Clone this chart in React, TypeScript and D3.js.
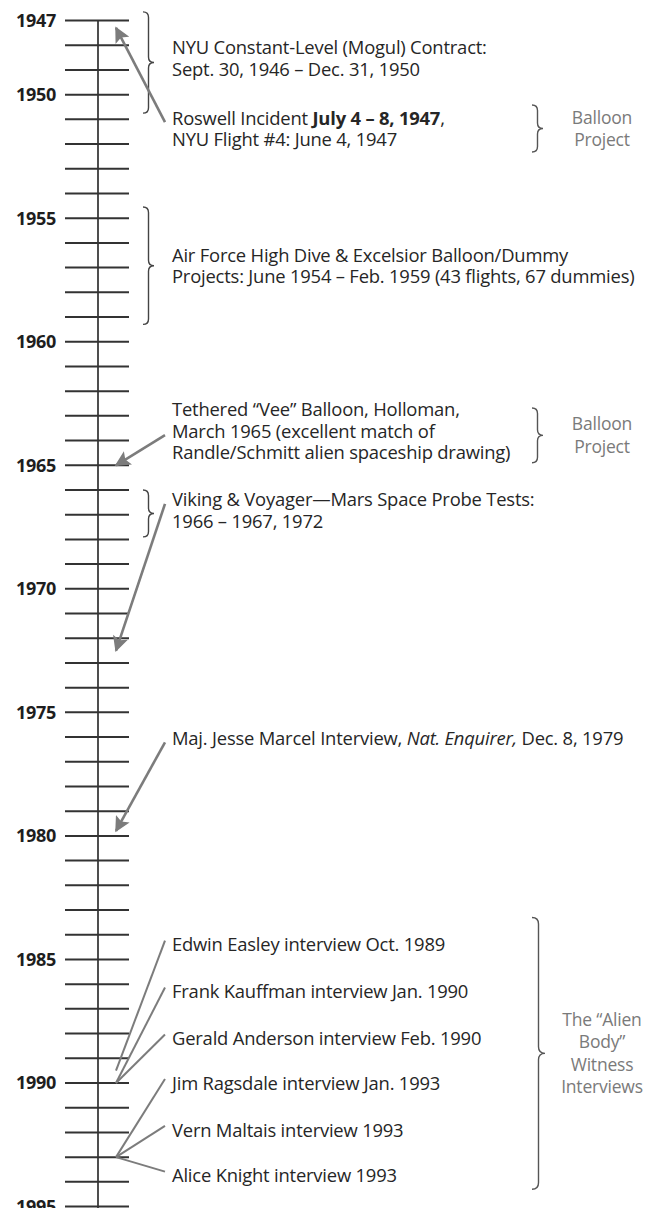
import React, { useRef, useEffect } from "react";
import * as d3 from "d3";

// axis
const labelYears = [1947, 1950, 1955, 1960, 1965, 1970, 1975, 1980, 1985, 1990, 1995];
const firstYear = 1947;
const lastYear = 1995;

// annotation text blocks (year = where the first line sits on the time axis)
const noteLines = [
  ["NYU Constant-Level (Mogul) Contract:", "Sept. 30, 1946 – Dec. 31, 1950"],
  ["Roswell Incident **July 4 – 8, 1947**,", "NYU Flight #4: June 4, 1947"],
  ["Air Force High Dive & Excelsior Balloon/Dummy", "Projects: June 1954 – Feb. 1959 (43 flights, 67 dummies)"],
  ["Tethered “Vee” Balloon, Holloman,", "March 1965 (excellent match of", "Randle/Schmitt alien spaceship drawing)"],
  ["Viking & Voyager—Mars Space Probe Tests:", "1966 – 1967, 1972"],
  ["Maj. Jesse Marcel Interview, _Nat. Enquirer,_ Dec. 8, 1979"],
  ["Edwin Easley interview Oct. 1989"],
  ["Frank Kauffman interview Jan. 1990"],
  ["Gerald Anderson interview Feb. 1990"],
  ["Jim Ragsdale interview Jan. 1993"],
  ["Vern Maltais interview 1993"],
  ["Alice Knight interview 1993"],
];
const noteYears = [1948.1, 1950.95, 1956.5, 1962.75, 1966.4, 1976.05, 1984.4, 1986.3, 1988.2, 1990.0, 1991.9, 1993.75];

// brace spans next to the axis
const spanStarts = [1946.65, 1954.55, 1966.0];
const spanEnds = [1950.75, 1959.3, 1967.9];

// pointers: which note, which line of it, and the year pointed at
const pointerNote = [1, 3, 4, 5, 6, 7, 8, 9, 10, 11];
const pointerLine = [0, 1, 0, 0, 0, 0, 0, 0, 0, 0];
const pointerYear = [1947.3, 1965.0, 1972.5, 1979.8, 1989.5, 1990.0, 1990.0, 1993.0, 1993.0, 1993.0];
const pointerHead = [true, true, true, true, false, false, false, false, false, false];

// grey group notes on the right
const groupLines = [["Balloon", "Project"], ["Balloon", "Project"], ["The “Alien", "Body”", "Witness", "Interviews"]];
const groupStarts = [1950.42, 1962.68, 1983.3];
const groupEnds = [1952.32, 1964.9, 1994.3];

const W = 648;
const H = 1208;
const FONT = "'Open Sans', 'Noto Sans', sans-serif";

function bracePath(x: number, y1: number, y2: number, w: number) {
  const ym = (y1 + y2) / 2;
  const h = w / 2;
  const r = Math.min(h, (y2 - y1) / 4);
  return `M${x},${y1} Q${x + h},${y1} ${x + h},${y1 + r} L${x + h},${ym - r} Q${x + h},${ym} ${x + w},${ym} ` +
    `Q${x + h},${ym} ${x + h},${ym + r} L${x + h},${y2 - r} Q${x + h},${y2} ${x},${y2}`;
}

function addRichText(sel: any, str: string) {
  // **bold**, _italic_
  const parts = str.split(/(\*\*[^*]+\*\*|_[^_]+_)/).filter((p) => p.length);
  parts.forEach((p) => {
    const t = sel.append("tspan");
    if (p.startsWith("**")) t.attr("font-weight", 700).text(p.slice(2, -2));
    else if (p.startsWith("_")) t.attr("font-style", "italic").text(p.slice(1, -1));
    else t.text(p);
  });
}

function App() {
  const svgRef = useRef<SVGSVGElement>(null);

  useEffect(() => {
    const svg = d3.select(svgRef.current);
    svg.selectAll("*").remove();

    const y = d3.scaleLinear().domain([1947, 1990]).range([20.5, 1083]);
    const axisX = 98;
    const lineH = 21.5;
    const textX = 172;

    const defs = svg.append("defs");
    defs.append("marker")
      .attr("id", "head")
      .attr("viewBox", "0 0 10 10")
      .attr("refX", 9).attr("refY", 5)
      .attr("markerWidth", 6.5).attr("markerHeight", 6)
      .attr("markerUnits", "strokeWidth")
      .attr("orient", "auto")
      .append("path")
      .attr("d", "M0,0 L10,5 L0,10 L2,5 Z")
      .attr("fill", "#7c7c7c");

    // axis
    const axis = svg.append("g").attr("class", "y-axis");
    axis.append("line")
      .attr("x1", axisX).attr("x2", axisX)
      .attr("y1", y(firstYear)).attr("y2", y(lastYear + 1))
      .attr("stroke", "#222").attr("stroke-width", 1.6);
    axis.selectAll(".tick")
      .data(d3.range(firstYear, lastYear + 1))
      .join("line")
      .attr("class", "tick")
      .attr("x1", axisX - 33).attr("x2", axisX + 31)
      .attr("y1", (d) => y(d)).attr("y2", (d) => y(d))
      .attr("stroke", "#333").attr("stroke-width", 2);
    axis.selectAll(".yr")
      .data(labelYears)
      .join("text")
      .attr("class", "yr")
      .attr("x", 56)
      .attr("y", (d) => y(d))
      .attr("dy", "0.36em")
      .attr("text-anchor", "end")
      .attr("font-family", FONT)
      .attr("font-weight", 700)
      .attr("font-size", 18)
      .attr("letter-spacing", -0.3)
      .attr("fill", "#1e1e1e")
      .text((d) => d);

    // left braces
    svg.selectAll(".lbrace")
      .data(spanStarts)
      .join("path")
      .attr("class", "lbrace")
      .attr("d", (d, i) => bracePath(143, y(d), y(spanEnds[i]), 11))
      .attr("fill", "none")
      .attr("stroke", "#444").attr("stroke-width", 1.4);

    // notes
    const notes = svg.append("g");
    noteLines.forEach((lines, i) => {
      lines.forEach((ln, j) => {
        const t = notes.append("text")
          .attr("x", textX)
          .attr("y", y(noteYears[i]) + j * lineH)
          .attr("dy", "0.36em")
          .attr("font-family", FONT)
          .attr("font-size", 18.4)
          .attr("letter-spacing", -0.2)
          .attr("fill", "#262626");
        addRichText(t, ln);
      });
    });

    // pointers
    svg.selectAll(".ptr")
      .data(pointerNote)
      .join("line")
      .attr("class", "ptr")
      .attr("x1", 165)
      .attr("y1", (d, i) => y(noteYears[d]) + pointerLine[i] * lineH + (pointerHead[i] ? 4 : -4))
      .attr("x2", 116)
      .attr("y2", (d, i) => y(pointerYear[i]))
      .attr("stroke", "#7c7c7c")
      .attr("stroke-width", (d, i) => (pointerHead[i] ? 2.6 : 2))
      .attr("marker-end", (d, i) => (pointerHead[i] ? "url(#head)" : null));

    // right braces + grey group notes
    groupStarts.forEach((s, i) => {
      const y1 = y(s);
      const y2 = y(groupEnds[i]);
      svg.append("path")
        .attr("d", bracePath(532, y1, y2, i === 2 ? 13 : 11))
        .attr("fill", "none")
        .attr("stroke", "#555").attr("stroke-width", 1.4);
      const lines = groupLines[i];
      const mid = (y1 + y2) / 2;
      const gh = 22.5;
      lines.forEach((ln, j) => {
        svg.append("text")
          .attr("x", 602)
          .attr("y", mid + (j - (lines.length - 1) / 2) * gh)
          .attr("dy", "0.36em")
          .attr("text-anchor", "middle")
          .attr("font-family", FONT)
          .attr("font-size", 17.5)
          .attr("letter-spacing", -0.2)
          .attr("fill", "#7a7a7a")
          .text(ln);
      });
    });
  }, []);

  return (
    <svg
      ref={svgRef}
      width={W}
      height={H}
      style={{ position: "absolute", left: 0, top: 0, background: "#fff" }}
    />
  );
}

export default App;
